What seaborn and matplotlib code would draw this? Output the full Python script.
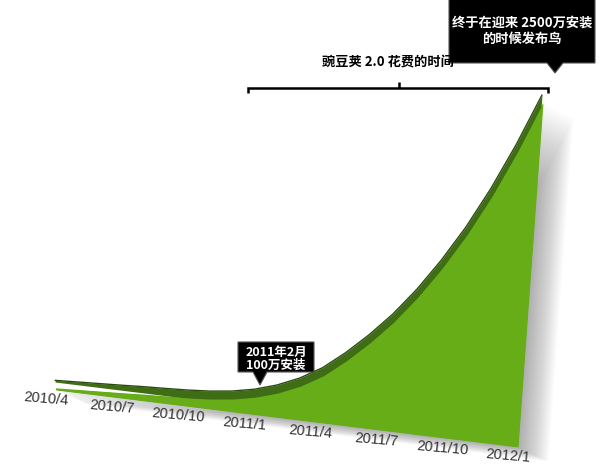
import numpy as np
import matplotlib
matplotlib.use("Agg")
import matplotlib.pyplot as plt
from matplotlib.transforms import Affine2D
from matplotlib.patches import Polygon
from matplotlib.colors import LinearSegmentedColormap
import seaborn as sns

# ---------------- data ----------------
months = ["2010/4", "2010/5", "2010/6", "2010/7", "2010/8", "2010/9", "2010/10",
          "2010/11", "2010/12", "2011/1", "2011/2", "2011/3", "2011/4", "2011/5",
          "2011/6", "2011/7", "2011/8", "2011/9", "2011/10", "2011/11", "2011/12",
          "2012/1"]
installs = [12, 20, 28, 36, 45, 52, 60, 72, 92, 125, 175, 245, 340, 470,
            620, 790, 990, 1220, 1480, 1780, 2120, 2500]   # 万安装
tick_labels = ["2010/4", "2010/7", "2010/10", "2011/1", "2011/4", "2011/7",
               "2011/10", "2012/1"]
bracket_text = "豌豆荚 2.0 花费的时间"
milestone_lines = ["2011年2月", "100万安装"]
release_lines = ["终于在迎来 2500万安装", "的时候发布鸟"]

# ---------------- style ----------------
sns.set_theme(style="white")
plt.rcParams['font.family'] = ['Noto Sans CJK SC', 'DejaVu Sans']

W, H = 600, 474
fig = plt.figure(figsize=(W / 100, H / 100), dpi=100)
ax = fig.add_axes([0, 0, 1, 1])
ax.set_axis_off()

# pixel space (y down) -> figure
pix = Affine2D().scale(1 / W, -1 / H).translate(0, 1) + fig.transFigure
# pseudo-3D projection of (month index, installs) onto the slanted plane
proj = Affine2D(np.array([[22.0, 0.010, 56.0],
                          [2.714, -0.1376, 390.0],
                          [0.0, 0.0, 1.0]]))
T = proj + pix

x = np.arange(len(months))
y = np.array(installs, dtype=float)

# soft shadow
for i in range(1, 24):
    ax.fill_between(x, 0, y, transform=proj + Affine2D().translate(1.3 * i, 0.6 * i) + pix,
                    color='0.35', alpha=0.024, lw=0)

# top surface (dark strip)
top_shift = Affine2D().translate(-1, -8)
ax.fill_between(x, 0, y, transform=proj + top_shift + pix, color='#3f6d16', lw=0)

# front face with gradient
face = ax.fill_between(x, 0, y, transform=T, color='#66ad18', lw=0)
cmap = LinearSegmentedColormap.from_list("g", ["#7cca1c", "#6cb619", "#5e9f17"])
grad = np.linspace(0, 1, 256).reshape(-1, 1)
im = ax.imshow(grad, cmap=cmap, extent=[40, 560, 460, 95], transform=pix,
               aspect='auto', origin='upper', interpolation='bilinear')
im.set_clip_path(face.get_paths()[0], face.get_transform())

# edge of the top surface
sns.lineplot(x=x, y=y, ax=ax, transform=proj + top_shift + pix,
             color='#2a4b0e', lw=1.0, legend=False)

# date labels along the slanted baseline
for lab in tick_labels:
    m = months.index(lab)
    ax.text(m, 0, lab, transform=proj + Affine2D().translate(-10, 9) + pix,
            ha='center', va='center', rotation=-5, rotation_mode='anchor',
            fontsize=10.5, color='#333333', family=['Liberation Sans', 'DejaVu Sans'])

# bracket
ax.plot([248, 248, 548, 548], [93, 88, 88, 93], transform=pix, color='black',
        lw=1.8, solid_joinstyle='miter', solid_capstyle='butt')
ax.plot([399, 399], [88, 82], transform=pix, color='black', lw=1.8,
        solid_capstyle='butt')
ax.text(388, 63, bracket_text, transform=pix, ha='center', va='center',
        fontsize=9.5, color='black', fontweight='semibold')

# release callout
ax.add_patch(Polygon([(449, -5), (595, -5), (595, 63), (563, 63), (555, 73),
                      (547, 63), (449, 63)], closed=True, transform=pix,
                     fc='black', ec='#555555', lw=0.8))
for k, line in enumerate(release_lines):
    ax.text(522, 23 + 16 * k, line, transform=pix, ha='center', va='center',
            fontsize=9.5, color='white', fontweight='semibold')

# milestone callout
ax.add_patch(Polygon([(238, 342), (314, 342), (314, 372), (267, 372), (260, 385),
                      (253, 372), (238, 372)], closed=True, transform=pix,
                     fc='black', ec='#555555', lw=0.8))
for k, line in enumerate(milestone_lines):
    ax.text(276, 352 + 13.5 * k, line, transform=pix, ha='center', va='center',
            fontsize=9, color='white', fontweight='semibold')

fig.savefig("out.png", dpi=100)
